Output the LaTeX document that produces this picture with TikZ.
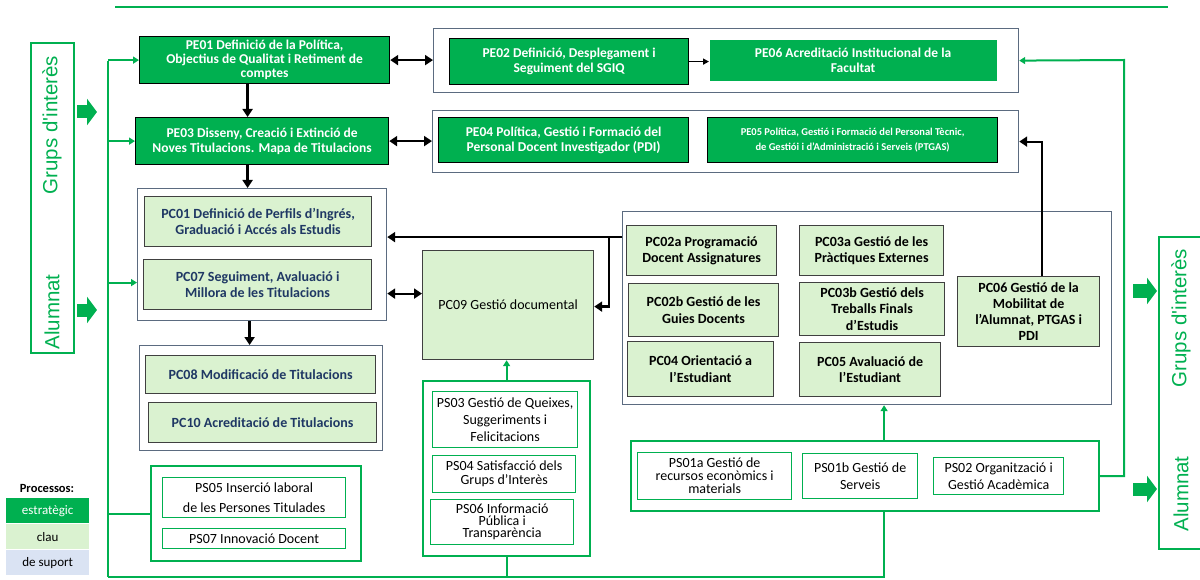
\documentclass[tikz,border=0pt]{standalone}
\usepackage{fontspec}
\setmainfont{Carlito}
\newfontfamily\arialfont{Liberation Sans}
\usetikzlibrary{arrows.meta}
\definecolor{pegreen}{HTML}{00B050}
\definecolor{pclight}{HTML}{DAF2D0}
\definecolor{pcnavy}{HTML}{1F3864}
\definecolor{grpgray}{HTML}{5B6B80}
\definecolor{suportblue}{HTML}{DAE3F3}
\begin{document}
\begin{tikzpicture}[x=1pt,y=-1pt,
  box/.style={anchor=north west,align=center,inner sep=1pt},
  pe/.style={box,fill=pegreen,draw=black,line width=1.2pt,text=white,font=\bfseries\fontsize{13.5}{15}\selectfont},
  pc/.style={box,fill=pclight,draw=black!75,line width=1.2pt,font=\bfseries\fontsize{14}{16.5}\selectfont},
  pcb/.style={pc,text=pcnavy},
  ps/.style={box,draw=pegreen,line width=1.3pt,font=\fontsize{14}{16}\selectfont},
  grp/.style={anchor=north west,draw=grpgray,line width=1.2pt},
  psgrp/.style={anchor=north west,draw=pegreen,line width=2.2pt},
  legbox/.style={box,minimum width=83,minimum height=25,font=\fontsize{13}{15}\selectfont},
  gline/.style={pegreen,line width=2pt},
  garr/.style={gline,-{Triangle[length=6pt,width=7pt]}},
  arr/.style={line width=2.5pt,-{Triangle[length=8pt,width=10pt]}},
  darr/.style={line width=2.5pt,{Triangle[length=8pt,width=10pt]}-{Triangle[length=8pt,width=10pt]}},
  thinarr/.style={line width=1.5pt,-{Triangle[length=6pt,width=6pt]}},
  blockarr/.style={pegreen,line width=13pt,-{Triangle[length=10pt,width=26pt]}},
  side/.style={rotate=90,text=pegreen,font=\arialfont\fontsize{20.5}{22}\selectfont}]
\useasboundingbox (0,0) rectangle (1200,580);

\node[anchor=north west,draw=pegreen,line width=2pt,minimum width=43,minimum height=310] (lbox) at (30,42) {};
\node[side] (lgrups) at (52,125) {Grups d'interès};
\node[side] (lalum) at (52,312) {Alumnat};
\draw[blockarr] (77,112) -- (97,112);
\draw[blockarr] (77,310) -- (97,310);

\node[anchor=north west,draw=pegreen,line width=2pt,minimum width=47,minimum height=312] (rbox) at (1158,236) {};
\node[side] (rgrups) at (1181,318) {Grups d'interès};
\node[side] (ralum) at (1181,494) {Alumnat};
\draw[blockarr] (1133,291) -- (1157,291);
\draw[blockarr] (1133,489) -- (1157,489);

\node[pe,minimum width=250,minimum height=47,font=\bfseries\fontsize{13.5}{14}\selectfont] (pe01) at (139,36) {PE01 Definició de la Política,\\Objectius de Qualitat i Retiment de\\comptes};
\node[pe,minimum width=253,minimum height=47] (pe03) at (135,117) {PE03 Disseny, Creació i Extinció  de\\Noves Titulacions. Mapa de Titulacions};
\node[grp,minimum width=585,minimum height=64] (pe02grp) at (433,28) {};
\node[pe,minimum width=239,minimum height=46] (pe02) at (449,38) {PE02 Definició, Desplegament i\\Seguiment del SGIQ};
\node[pe,draw=none,minimum width=287,minimum height=41] (pe06) at (709,39) {PE06 Acreditació Institucional de la\\Facultat};
\node[grp,minimum width=586,minimum height=62] (pe04grp) at (432,110) {};
\node[pe,minimum width=250,minimum height=45] (pe04) at (438,117) {PE04 Política, Gestió i Formació del\\Personal Docent Investigador (PDI)};
\node[pe,minimum width=290,minimum height=45,font=\bfseries\fontsize{10.5}{14.5}\selectfont] (pe05) at (707,117) {PE05 Política, Gestió i Formació del Personal Tècnic,\\de Gestiói i d’Administració i Serveis (PTGAS)};

\node[grp,minimum width=249,minimum height=132] (pcg1) at (137,188) {};
\node[pcb,minimum width=227,minimum height=50] (pc01) at (144,196) {PC01 Definició de Perfils d’Ingrés,\\Graduació i Accés als Estudis};
\node[pcb,minimum width=228,minimum height=50] (pc07) at (143,259) {PC07 Seguiment, Avaluació i\\Millora de les Titulacions};
\node[grp,minimum width=243,minimum height=105] (pcg2) at (139,345) {};
\node[pcb,minimum width=230,minimum height=38] (pc08) at (145,355) {PC08 Modificació de Titulacions};
\node[pcb,minimum width=228,minimum height=40] (pc10) at (148,402) {PC10 Acreditació de Titulacions};
\node[pc,minimum width=171,minimum height=109,font=\fontsize{14}{16}\selectfont] (pc09) at (422,250) {PC09 Gestió documental};

\node[grp,minimum width=489,minimum height=193] (pcg3) at (622,211) {};
\node[pc,minimum width=150,minimum height=50] (pc02a) at (626,225) {PC02a Programació\\Docent Assignatures};
\node[pc,minimum width=144,minimum height=50] (pc03a) at (799,225) {PC03a Gestió de les\\Pràctiques Externes};
\node[pc,minimum width=150,minimum height=53] (pc02b) at (628,283) {PC02b Gestió de les\\Guies Docents};
\node[pc,minimum width=145,minimum height=53] (pc03b) at (799,282) {PC03b Gestió dels\\Treballs Finals\\d’Estudis};
\node[pc,minimum width=146,minimum height=55] (pc04) at (627,341) {PC04 Orientació a\\l’Estudiant};
\node[pc,minimum width=141,minimum height=54] (pc05) at (799,342) {PC05 Avaluació de\\l’Estudiant};
\node[pc,minimum width=142,minimum height=70,font=\bfseries\fontsize{14}{16}\selectfont] (pc06) at (957,276) {PC06 Gestió de la\\Mobilitat de\\l’Alumnat, PTGAS i\\PDI};

\node[psgrp,minimum width=167,minimum height=175] (psg3) at (422,380) {};
\node[ps,minimum width=145,minimum height=56,font=\fontsize{14}{17}\selectfont] (ps03) at (432,391) {PS03 Gestió de Queixes,\\Suggeriments i\\Felicitacions};
\node[ps,minimum width=143,minimum height=37,font=\fontsize{14}{14}\selectfont] (ps04) at (432,455) {PS04 Satisfacció dels\\Grups d’Interès};
\node[ps,minimum width=143,minimum height=45,font=\fontsize{14}{12}\selectfont] (ps06) at (430,499) {PS06 Informació\\Pública i\\Transparència};

\node[psgrp,minimum width=468,minimum height=70] (ps1grp) at (630,440) {};
\node[ps,minimum width=154,minimum height=47,font=\fontsize{14}{13}\selectfont] (ps01a) at (637,452) {PS01a Gestió de\\recursos econòmics i\\materials};
\node[ps,minimum width=115,minimum height=45,font=\fontsize{14}{17}\selectfont] (ps01b) at (802,453) {PS01b Gestió de\\Serveis};
\node[ps,minimum width=130,minimum height=37,font=\fontsize{14}{17}\selectfont] (ps02) at (933,457) {PS02 Organització i\\Gestió Acadèmica};

\node[psgrp,minimum width=210,minimum height=95] (psg5) at (150,465) {};
\node[ps,minimum width=183,minimum height=40,font=\fontsize{14}{20}\selectfont] (ps05) at (162,477) {PS05 Inserció laboral\\de les Persones Titulades};
\node[ps,minimum width=183,minimum height=20] (ps07) at (162,528) {PS07 Innovació Docent};

\node[font=\bfseries\fontsize{12.5}{14}\selectfont] (proc) at (47,488) {Processos:};
\node[legbox,fill=pegreen,text=white] (lestr) at (6,498) {estratègic};
\node[legbox,fill=pclight] (lclau) at (6,524) {clau};
\node[legbox,fill=suportblue] (lsup) at (6,550) {de suport};

\draw[arr] ([xshift=-17pt]pe01.south) -- ([xshift=-17pt]pe01.south |- pe03.north);
\draw[arr] ([xshift=-14.5pt]pe03.south) -- ([xshift=-14.5pt]pe03.south |- pcg1.north);
\draw[arr] ([xshift=-12.5pt]pcg1.south) -- ([xshift=-12.5pt]pcg1.south |- pcg2.north);
\draw[darr] (pe01.east) -- (pe01.east -| pe02grp.west);
\draw[darr] (pe03.east) -- (pe03.east -| pe04grp.west);
\draw[thinarr] (pe02.east) -- (pe02.east -| pe06.west);
\draw[darr,line width=2pt] ([yshift=11.5pt]pc09.west) -- ([yshift=11.5pt]pc09.west -| pcg1.east);
\coordinate (br) at ([xshift=-13pt,yshift=71pt]pcg3.west);
\draw[arr] ([yshift=71pt]pcg3.west) -- ([yshift=71pt]pcg3.west -| pcg1.east);
\draw[arr] (br) |- ([yshift=-1.5pt]pc09.east);
\draw[arr,line width=2pt] ([xshift=13pt]pc06.north) |- (pe04grp.east);

\coordinate (tl) at (115,7);
\coordinate (tr) at (1168,7);
\draw[gline] (tl) -- (tr);
\coordinate (ltop) at (108,61);
\coordinate (lbot) at (108,577);
\draw[gline] (ltop) -- (lbot);
\draw[garr] (pe01.west -| ltop) -- (pe01.west);
\draw[garr] (pe03.west -| ltop) -- (pe03.west);
\draw[garr] ([yshift=-28pt]pcg1.west -| ltop) -- ([yshift=-28pt]pcg1.west);
\draw[gline] (psg5.west -| ltop) -- (psg5.west);
\draw[gline] (lbot) -- ([xshift=19pt]lbot -| ps1grp.south) -- ([xshift=19pt]ps1grp.south);
\draw[gline] (psg3.south) -- (psg3.south |- lbot);
\draw[garr] (psg3.north) -- (psg3.north |- pc09.south);
\draw[garr] ([xshift=19pt]ps1grp.north) -- ([xshift=19pt]ps1grp.north |- pcg3.south);
\coordinate (rturn) at (1124,60);
\draw[garr] (ps1grp.east) -| (rturn) -- (pe02grp.east);
\end{tikzpicture}
\end{document}
